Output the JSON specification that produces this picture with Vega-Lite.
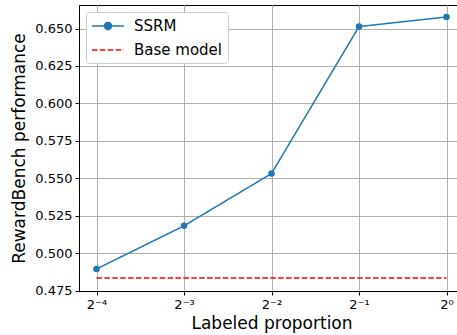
{
  "$schema": "https://vega.github.io/schema/vega-lite/v6.json",
  "width": 385,
  "height": 286,
  "autosize": {"type": "none"},
  "padding": {"left": 79, "top": 5, "right": 0, "bottom": 44},
  "background": "white",
  "config": {
    "view": {"stroke": "#000", "strokeWidth": 1},
    "font": "DejaVu Sans",
    "axis": {
      "labelFont": "DejaVu Sans", "titleFont": "DejaVu Sans",
      "labelFontSize": 13, "titleFontSize": 17, "titleFontWeight": "normal",
      "labelColor": "#000", "titleColor": "#000",
      "domainColor": "#000", "tickColor": "#000", "tickSize": 4, "labelPadding": 3,
      "gridColor": "#b0b0b0", "gridWidth": 1
    },
    "legend": {"labelFont": "DejaVu Sans", "labelFontSize": 15, "labelColor": "#000"}
  },
  "data": {"values": [
    {"p": -4, "v": 0.4895, "series": "SSRM"},
    {"p": -3, "v": 0.5183, "series": "SSRM"},
    {"p": -2, "v": 0.5532, "series": "SSRM"},
    {"p": -1, "v": 0.6513, "series": "SSRM"},
    {"p": 0, "v": 0.6577, "series": "SSRM"},
    {"p": -4, "v": 0.4835, "series": "Base model"},
    {"p": 0, "v": 0.4835, "series": "Base model"}
  ]},
  "encoding": {
    "x": {"field": "p", "type": "quantitative", "scale": {"domain": [-4.2, 0.2], "nice": false, "zero": false},
      "axis": {"title": "Labeled proportion", "values": [-4, -3, -2, -1, 0], "titlePadding": 4,
        "labelExpr": "datum.value == -4 ? '2⁻⁴' : datum.value == -3 ? '2⁻³' : datum.value == -2 ? '2⁻²' : datum.value == -1 ? '2⁻¹' : '2⁰'"}},
    "y": {"field": "v", "type": "quantitative", "scale": {"domain": [0.4748, 0.6657], "nice": false, "zero": false},
      "axis": {"title": "RewardBench performance", "values": [0.475, 0.5, 0.525, 0.55, 0.575, 0.6, 0.625, 0.65], "format": ".3f", "titlePadding": 6}}
  },
  "layer": [
    {
      "mark": {"type": "line", "strokeWidth": 1.5},
      "encoding": {
        "color": {"field": "series", "type": "nominal", "scale": {"domain": ["SSRM", "Base model"], "range": ["#1f77b4", "#ff0000"]},
          "legend": {"title": null, "orient": "none", "legendX": 7, "legendY": 7, "symbolSize": 256, "symbolStrokeWidth": 1.5,
            "symbolOffset": 8,
            "fillColor": "white", "strokeColor": "#cccccc", "cornerRadius": 3, "padding": 5, "rowPadding": 7, "labelOffset": 17,
            "encode": {"symbols": {"update": {
              "shape": {"signal": "datum.value === 'SSRM' ? 'M-2,0H2M0.44,0A0.44,0.44 0 1,1 -0.44,0A0.44,0.44 0 1,1 0.44,0' : 'M-2,0H2'"},
              "fill": {"signal": "datum.value === 'SSRM' ? '#1f77b4' : 'transparent'"}
            }}}}},
        "strokeDash": {"field": "series", "type": "nominal", "scale": {"domain": ["SSRM", "Base model"], "range": [[1, 0], [5.5, 2.4]]}, "legend": null}
      }
    },
    {
      "transform": [{"filter": "datum.series === 'SSRM'"}],
      "mark": {"type": "point", "filled": true, "size": 42, "color": "#1f77b4", "opacity": 1}
    }
  ]
}
